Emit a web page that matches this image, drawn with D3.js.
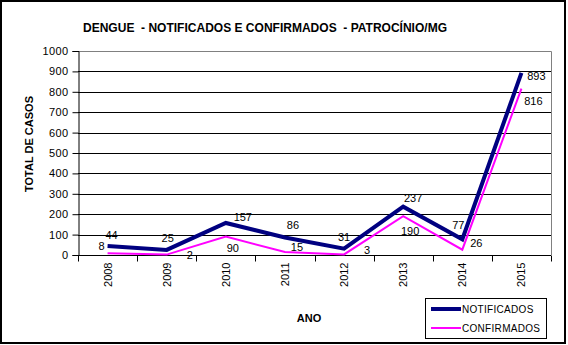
<!DOCTYPE html>
<html>
<head>
<meta charset="utf-8">
<script src="https://cdn.jsdelivr.net/npm/d3@7"></script>
<style>
  html, body { margin: 0; padding: 0; background: #fff; }
  svg { display: block; font-family: "Liberation Sans", Arial, sans-serif; }
</style>
</head>
<body>
<svg id="chart" width="568" height="345"></svg>
<script>
// Dengue cases per year, Patrocínio/MG
const years = ["2008", "2009", "2010", "2011", "2012", "2013", "2014", "2015"];
const notificados = [44, 25, 157, 86, 31, 237, 77, 893];
const confirmados = [8, 2, 90, 15, 3, 190, 26, 816];
const yTicks = [0, 100, 200, 300, 400, 500, 600, 700, 800, 900, 1000];

// Hand-placed data-label nudges (dx, dy) relative to each point
const labelNudgeN = [[4, -11], [1, -12], [17, -6], [8, -12], [0, -12], [10, -9], [-4, -14], [15, 3]];
const labelNudgeC = [[-6, -7], [23, 0], [7, 11], [12, -5], [23, -4], [7, 15], [14, -7], [12, 13]];

const svg = d3.select("#chart");
const plot = { left: 78, right: 551, top: 51, bottom: 255 };

// Outer frame
svg.append("rect")
  .attr("x", 1).attr("y", 1).attr("width", 564).attr("height", 342)
  .attr("fill", "#fff").attr("stroke", "#000").attr("stroke-width", 2);

const x = d3.scaleBand().domain(years).range([plot.left, plot.right]);
const y = d3.scaleLinear().domain([0, 1000]).range([plot.bottom, plot.top]);
const cx = d => x(d) + x.bandwidth() / 2;

// Title
svg.append("text")
  .attr("x", 265).attr("y", 32)
  .attr("text-anchor", "middle")
  .attr("font-size", 13.5).attr("font-weight", "bold")
  .style("white-space", "pre")
  .attr("textLength", 364).attr("lengthAdjust", "spacingAndGlyphs")
  .text("DENGUE  - NOTIFICADOS E CONFIRMADOS  - PATROCÍNIO/MG");

// Plot border (top/right in grey)
svg.append("path")
  .attr("d", `M${plot.left},${plot.top + 0.5}H${plot.right + 0.5}V${plot.bottom}`)
  .attr("fill", "none").attr("stroke", "#808080").attr("stroke-width", 1);

// Horizontal gridlines
svg.append("g")
  .selectAll("line")
  .data(yTicks.filter(t => t > 0 && t < 1000))
  .join("line")
  .attr("x1", plot.left).attr("x2", plot.right)
  .attr("y1", d => Math.round(y(d)) + 0.5).attr("y2", d => Math.round(y(d)) + 0.5)
  .attr("stroke", "#000").attr("stroke-width", 1);

// Y axis
const yAxis = svg.append("g")
  .attr("transform", `translate(${plot.left + 0.5},0)`)
  .call(d3.axisLeft(y).tickValues(yTicks).tickSize(6).tickPadding(4).tickFormat(d3.format("d")));
yAxis.select(".domain").attr("stroke", "#000");
yAxis.selectAll(".tick line").attr("stroke", "#000");
yAxis.selectAll("text")
  .attr("font-family", "Liberation Sans, Arial, sans-serif")
  .attr("font-size", 11).attr("letter-spacing", 0.4).attr("fill", "#000");

// X axis: ticks at category boundaries
const xg = svg.append("g").attr("transform", `translate(0,${plot.bottom + 0.5})`);
xg.append("line")
  .attr("x1", plot.left).attr("x2", plot.right)
  .attr("stroke", "#000");
const bounds = years.map(d => x(d)).concat([plot.right]);
xg.selectAll("line.tk")
  .data(bounds)
  .join("line").attr("class", "tk")
  .attr("x1", d => Math.round(d) + 0.5).attr("x2", d => Math.round(d) + 0.5)
  .attr("y1", 0).attr("y2", 6)
  .attr("stroke", "#000");
xg.selectAll("text")
  .data(years)
  .join("text")
  .attr("transform", d => `translate(${cx(d) + 4},${7}) rotate(-90)`)
  .attr("text-anchor", "end")
  .attr("font-size", 11)
  .text(d => d);

// Axis titles
svg.append("text")
  .attr("transform", "translate(33,144) rotate(-90)")
  .attr("text-anchor", "middle")
  .attr("font-size", 11).attr("font-weight", "bold")
  .text("TOTAL DE CASOS");
svg.append("text")
  .attr("x", 309).attr("y", 322)
  .attr("text-anchor", "middle")
  .attr("font-size", 11).attr("font-weight", "bold")
  .text("ANO");

// Series lines
const line = d3.line().x((d, i) => cx(years[i])).y(d => y(d));
svg.append("path")
  .datum(confirmados)
  .attr("d", line)
  .attr("fill", "none").attr("stroke", "#ff00ff").attr("stroke-width", 2)
  .attr("stroke-linejoin", "miter");
svg.append("path")
  .datum(notificados)
  .attr("d", line)
  .attr("fill", "none").attr("stroke", "#000080").attr("stroke-width", 4)
  .attr("stroke-linejoin", "miter");

// Data labels
function labels(values, nudges) {
  svg.append("g")
    .selectAll("text")
    .data(values)
    .join("text")
    .attr("x", (d, i) => cx(years[i]) + nudges[i][0])
    .attr("y", (d, i) => y(d) + nudges[i][1])
    .attr("dy", "0.36em")
    .attr("text-anchor", "middle")
    .attr("font-size", 11)
    .text(d => d);
}
labels(notificados, labelNudgeN);
labels(confirmados, labelNudgeC);

// Legend
const lg = svg.append("g");
lg.append("rect")
  .attr("x", 425.5).attr("y", 298.5).attr("width", 121).attr("height", 40)
  .attr("fill", "#fff").attr("stroke", "#000");
const legendItems = [
  { name: "NOTIFICADOS", color: "#000080", width: 4, y: 309 },
  { name: "CONFIRMADOS", color: "#ff00ff", width: 2, y: 328 }
];
legendItems.forEach(it => {
  lg.append("line")
    .attr("x1", 431).attr("x2", 461)
    .attr("y1", it.y).attr("y2", it.y)
    .attr("stroke", it.color).attr("stroke-width", it.width);
  lg.append("text")
    .attr("x", 462).attr("y", it.y).attr("dy", "0.36em")
    .attr("font-size", 10).attr("letter-spacing", 0.3)
    .text(it.name);
});
</script>
</body>
</html>
